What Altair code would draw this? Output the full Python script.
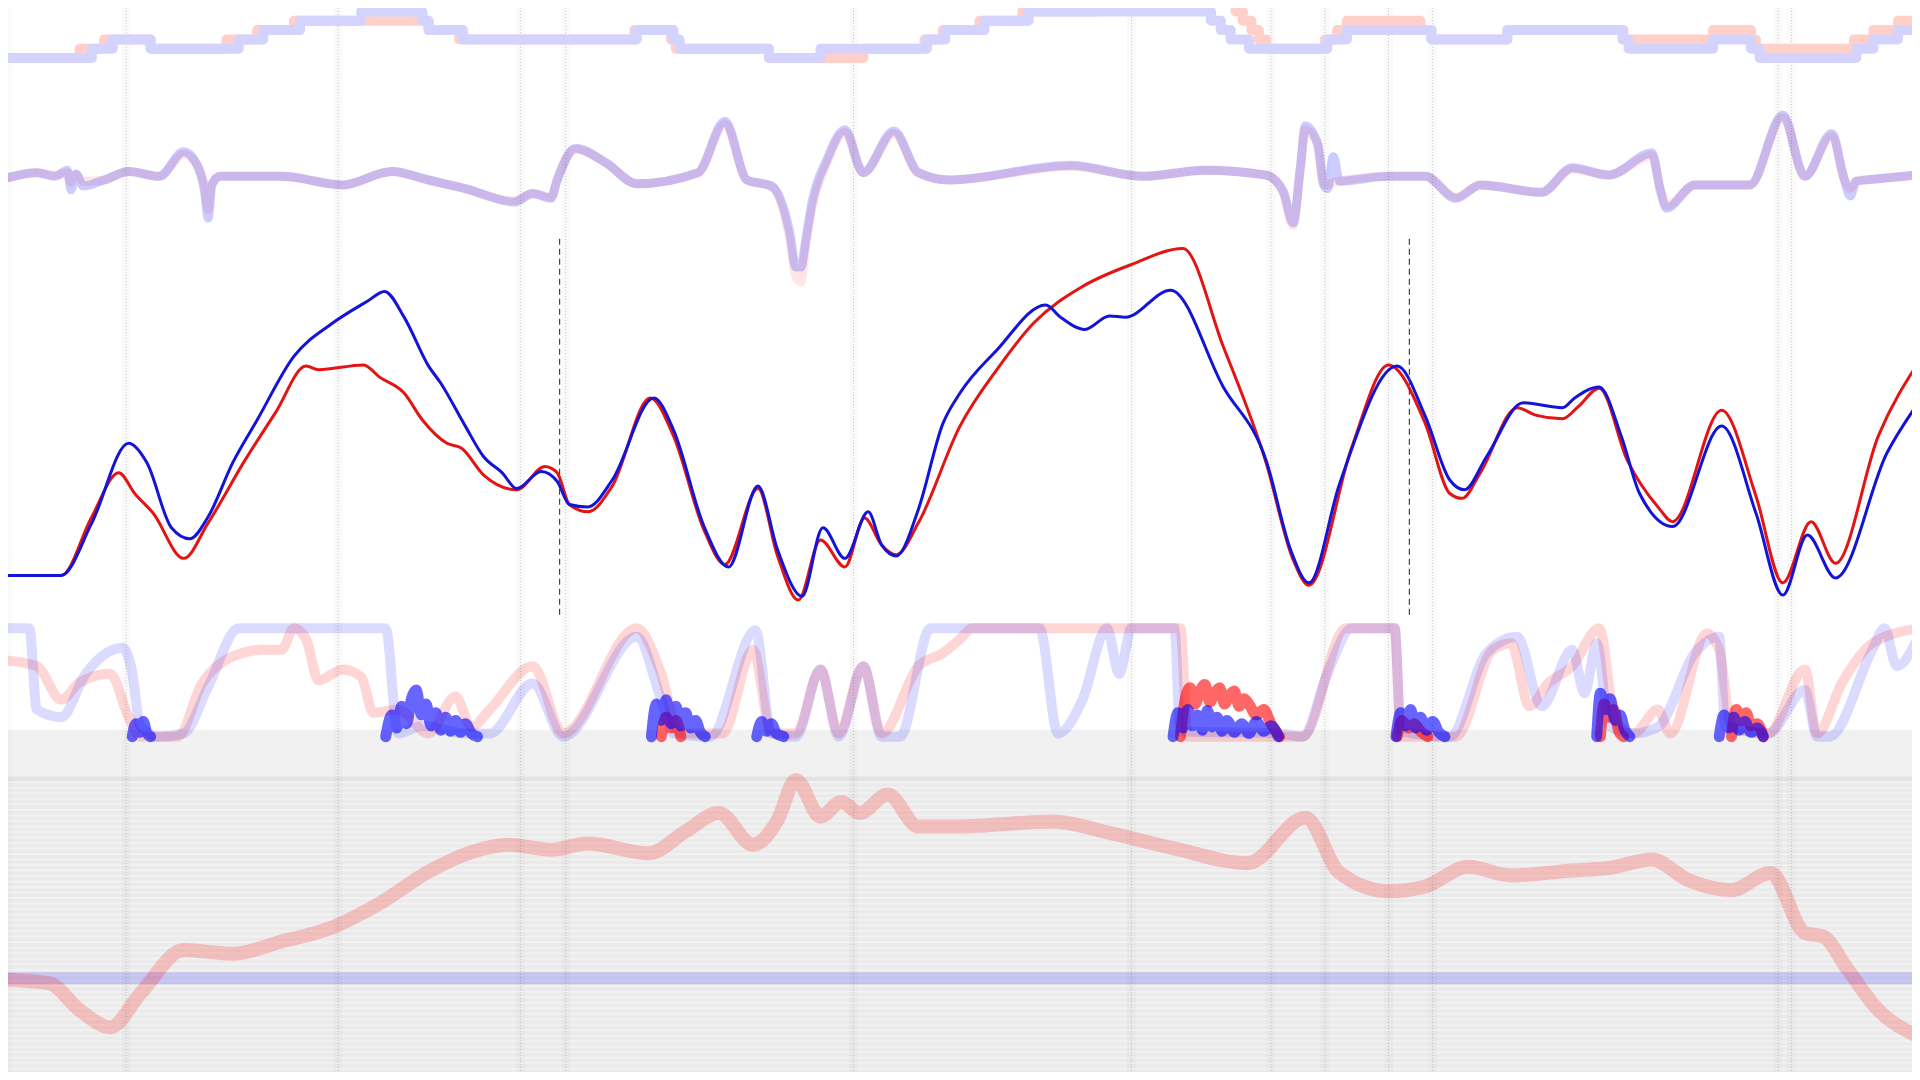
import altair as alt
import pandas as pd

S = 1920 / 1568
W, H = 1904, 1064

# ---------------- data ----------------
gear_blue_x = [0, 75, 92, 123, 195, 215, 245, 295, 345, 350, 378, 520, 550, 555, 628, 670, 757, 772, 804, 840,
               989, 997, 1005, 1020, 1084, 1100, 1169, 1231, 1325, 1330, 1399, 1430, 1437, 1516, 1530, 1550, 1575]
gear_blue = [2, 3, 4, 3, 4, 5, 6, 7, 6, 5, 4, 5, 4, 3, 2, 3, 4, 5, 6, 7,
             6, 5, 4, 3, 4, 5, 4, 5, 4, 3, 4, 3, 2, 3, 4, 5, 5]
gear_red_x = [0, 65, 85, 123, 185, 210, 240, 350, 375, 518, 548, 552, 628, 705, 755, 770, 800, 835, 896, 1009,
              1015, 1022, 1028, 1034, 1082, 1092, 1100, 1160, 1169, 1231, 1326, 1399, 1430, 1434, 1514, 1530, 1550, 1575]
gear_red = [2, 3, 4, 3, 4, 5, 6, 5, 4, 5, 4, 3, 2, 3, 4, 5, 6, 7, 8, 7,
            6, 5, 4, 3, 4, 5, 6, 5, 4, 5, 4, 5, 4, 3, 4, 5, 6, 6]

steer_x = [0, 30, 45, 55, 58, 62, 68, 85, 105, 130,
           150, 160, 167, 170, 173, 180, 210, 230, 280, 320,
           350, 380, 420, 435, 450, 455, 470, 495, 520, 570,
           592, 610, 630, 645, 650, 654, 658, 663, 675, 690,
           705, 730, 750, 775, 874, 934, 984, 1034, 1048, 1056,
           1062, 1066, 1076, 1081, 1084, 1089, 1094, 1134, 1164, 1189,
           1209, 1259, 1284, 1314, 1349, 1356, 1361, 1384, 1429, 1456,
           1474, 1496, 1506, 1511, 1516, 1534, 1575]
steer_blue = [-1, 5, 2, 7, -9, 4, -6, -1, 6, 2,
              22, 13, -10, -32, -5, 2, 2, 2, -5, 6,
              -1, -8, -19, -12, -16, -1, 25, 13, -4, 5,
              47, -1, -6, -44, -72, -72, -50, -20, 15, 40,
              5, 39, 5, -1, 11, 2, 7, 3, -10, -36,
              10, 43, 29, -5, -8, 18, -2, 2, 2, -16,
              -5, -11, 9, 3, 21, -10, -24, -5, -5, 52,
              2, 37, 0, -14, -2, 0, 4]
steer_red = [-1, 5, 3, 5, -3, 3, -2, -1, 6, 2,
             20, 13, -6, -25, -4, 2, 2, 2, -5, 6,
             -1, -8, -18, -12, -15, -1, 24, 13, -4, 5,
             45, -1, -6, -50, -80, -84, -55, -25, 12, 38,
             5, 37, 5, -1, 10, 2, 7, 3, -12, -38,
             8, 40, 28, -4, -5, -3, -2, 2, 2, -15,
             -5, -11, 8, 3, 19, -8, -22, -5, -5, 50,
             2, 35, 0, -8, -2, 0, 4]

spd_blue_x = [0, 50, 75, 105, 120, 140, 155, 170, 190, 210,
              240, 270, 300, 314, 330, 350, 360, 380, 395, 410,
              422, 442, 455, 465, 480, 500, 534, 550, 575, 595,
              619, 635, 655, 672, 690, 709, 720, 732, 750, 770,
              784, 814, 854, 866, 886, 906, 919, 956, 999, 1034,
              1054, 1069, 1094, 1141, 1164, 1184, 1196, 1214, 1244, 1276,
              1286, 1306, 1324, 1339, 1366, 1406, 1434, 1456, 1476, 1499,
              1541, 1568]
spd_blue = [65, 65, 108, 173, 157, 104, 95, 113, 157, 192,
            244, 270, 289, 297, 276, 236, 222, 187, 162, 149,
            136, 150, 142, 123, 121, 143, 210, 184, 105, 72,
            138, 86, 48, 104, 79, 117, 90, 81, 119, 189,
            214, 249, 286, 276, 266, 277, 276, 298, 219, 159,
            86, 59, 140, 236, 195, 143, 135, 162, 206, 202,
            210, 219, 179, 132, 105, 187, 116, 49, 98, 63,
            165, 208]
spd_red_x = [0, 50, 75, 97, 110, 125, 150, 170, 200, 225,
             250, 260, 297, 310, 330, 345, 365, 377, 395, 422,
             445, 455, 465, 480, 500, 531, 550, 575, 592, 619,
             635, 652, 670, 690, 706, 720, 732, 750, 784, 814,
             844, 884, 924, 966, 999, 1034, 1056, 1069, 1104, 1134,
             1164, 1184, 1194, 1209, 1239, 1254, 1276, 1289, 1306, 1329,
             1354, 1366, 1406, 1434, 1456, 1479, 1499, 1534, 1568]
spd_red = [65, 65, 113, 149, 132, 116, 79, 108, 159, 198,
           236, 233, 237, 227, 214, 192, 173, 169, 147, 135,
           154, 149, 123, 117, 138, 210, 179, 102, 74, 136,
           81, 45, 94, 72, 112, 90, 82, 108, 187, 233,
           271, 301, 319, 332, 252, 157, 78, 57, 170, 237,
           189, 132, 128, 149, 202, 196, 193, 203, 218, 159,
           121, 109, 200, 130, 59, 109, 75, 179, 241]

thr_blue_x = [0, 24, 30, 50, 70, 100, 107, 115, 130, 150,
              170, 195, 315, 325, 345, 380, 400, 435, 460, 520,
              540, 550, 580, 617, 630, 650, 670, 685, 705, 720,
              735, 760, 849, 864, 884, 904, 914, 924, 959, 964,
              1044, 1064, 1084, 1104, 1139, 1144, 1184, 1214, 1239, 1259,
              1284, 1294, 1304, 1314, 1334, 1354, 1384, 1404, 1409, 1444,
              1474, 1484, 1494, 1529, 1539, 1549, 1568]
thr_blue = [100, 100, 25, 18, 58, 82, 65, 9, 0, 3,
            46, 100, 100, 3, 10, 3, 3, 49, 0, 92,
            34, 3, 0, 98, 3, 0, 62, 0, 65, 0,
            0, 100, 100, 3, 34, 100, 58, 100, 100, 5,
            3, 0, 58, 100, 100, 5, 0, 77, 92, 28,
            80, 40, 86, 10, 3, 9, 77, 92, 10, 3,
            43, 0, 0, 80, 100, 65, 95]
thr_red_x = [0, 30, 50, 65, 90, 105, 115, 145, 165, 190,
             215, 230, 240, 250, 260, 280, 295, 305, 325, 350,
             372, 385, 400, 435, 460, 520, 540, 555, 590, 615,
             630, 650, 670, 685, 705, 720, 750, 770, 784, 794,
             964, 970, 1064, 1099, 1139, 1144, 1189, 1219, 1234, 1249,
             1264, 1284, 1306, 1319, 1334, 1354, 1364, 1394, 1404, 1414,
             1444, 1474, 1484, 1504, 1529, 1568]
thr_red = [71, 65, 34, 50, 58, 18, 0, 0, 49, 74,
           80, 80, 100, 90, 52, 62, 55, 22, 25, 3,
           37, 9, 25, 65, 3, 100, 58, 3, 3, 80,
           3, 3, 62, 3, 65, 3, 65, 77, 90, 100,
           100, 0, 0, 100, 100, 0, 0, 80, 86, 28,
           49, 65, 100, 15, 3, 25, 3, 95, 80, 10,
           3, 62, 3, 49, 86, 100]

# brake zones: (zone id, distances, brake %)
brake_blue_zones = [
    (1, [108, 111, 114, 117, 120, 123], [0, 12, 4, 14, 3, 0]),
    (2, [315, 320, 324, 328, 332, 336, 340, 344, 348, 352, 356, 360, 364, 368, 372, 376, 380, 385, 390],
        [0, 20, 8, 28, 12, 35, 43, 20, 30, 10, 22, 6, 18, 5, 15, 4, 12, 3, 0]),
    (3, [532, 536, 540, 544, 548, 552, 556, 560, 564, 568, 572, 576],
        [0, 30, 15, 34, 12, 28, 10, 22, 8, 15, 4, 0]),
    (4, [618, 622, 626, 630, 634, 640], [0, 14, 5, 12, 3, 0]),
    (5, [958, 962, 966, 970, 974, 978, 982, 986, 990, 994, 998, 1002, 1008, 1014, 1020, 1026, 1032, 1038, 1044],
        [0, 22, 8, 25, 10, 20, 6, 24, 9, 18, 5, 15, 4, 12, 3, 14, 5, 10, 0]),
    (6, [1140, 1144, 1148, 1152, 1156, 1160, 1165, 1170, 1175, 1180], [0, 22, 10, 25, 8, 18, 6, 14, 4, 0]),
    (7, [1304, 1307, 1311, 1315, 1319, 1323, 1327, 1331], [0, 40, 25, 35, 15, 20, 6, 0]),
    (8, [1404, 1408, 1412, 1416, 1420, 1425, 1430, 1435, 1440], [0, 20, 8, 18, 6, 14, 4, 8, 0]),
]
brake_red_zones = [
    (3, [540, 544, 548, 552, 556], [0, 18, 8, 15, 0]),
    (5, [964, 968, 972, 976, 980, 984, 988, 992, 996, 1000, 1004, 1008, 1012, 1016, 1020, 1026, 1032, 1038, 1045],
        [0, 35, 45, 30, 42, 48, 32, 40, 45, 30, 38, 42, 28, 35, 30, 20, 25, 12, 0]),
    (6, [1141, 1145, 1150, 1155, 1160, 1166], [0, 15, 8, 12, 5, 0]),
    (7, [1307, 1310, 1314, 1318, 1322, 1326], [0, 30, 18, 25, 5, 0]),
    (8, [1414, 1418, 1422, 1426, 1430, 1435, 1440], [0, 25, 15, 22, 10, 12, 0]),
]

delta_x = [0, 40, 65, 90, 115, 150, 190, 230, 270, 310,
           350, 385, 415, 450, 480, 530, 560, 587, 615, 635,
           650, 670, 687, 702, 725, 750, 784, 859, 909, 959,
           1019, 1066, 1094, 1134, 1164, 1199, 1234, 1284, 1314, 1349,
           1379, 1414, 1446, 1474, 1489, 1509, 1534, 1568]
delta_red = [-0.01, -0.04, -0.26, -0.40, -0.12, 0.23, 0.20, 0.30, 0.41, 0.61,
             0.87, 1.03, 1.09, 1.05, 1.10, 1.02, 1.20, 1.35, 1.09, 1.29,
             1.62, 1.32, 1.44, 1.35, 1.50, 1.24, 1.24, 1.28, 1.18, 1.06,
             0.94, 1.31, 0.86, 0.71, 0.75, 0.91, 0.84, 0.88, 0.90, 0.97,
             0.80, 0.72, 0.86, 0.37, 0.34, 0.07, -0.26, -0.48]
delta_blue_x = [0, 1575]
delta_blue = [0.0, 0.0]

grid_x = [6, 103, 276, 425, 462, 697, 924, 1038, 1082, 1134, 1170, 1452, 1463]
marker_x = [457, 1151]

# ---------------- scales ----------------
XS = alt.Scale(domain=[8 / S, (W + 8) / S], nice=False, zero=False)


def ysc(a, b):
    vmax = (S * a - 8) / (S * b)
    vmin = vmax - H / (S * b)
    return alt.Scale(domain=[vmin, vmax], nice=False, zero=False)


GEAR = ysc(62.6, 7.6)
STEER = ysc(146, 1)
SPEED = ysc(535, 1)
THR = ysc(601.6, 0.886)
DELTA = ysc(798.9, 100)


def line(df, field, scale, color, width, opacity=1.0, interp="monotone", detail=None):
    enc = {"x": alt.X("x:Q", scale=XS, axis=None),
           "y": alt.Y(f"{field}:Q", scale=scale, axis=None)}
    if detail:
        enc["detail"] = alt.Detail(f"{detail}:N")
    return alt.Chart(df).mark_line(color=color, strokeWidth=width, opacity=opacity,
                                   interpolate=interp, strokeCap="round",
                                   strokeJoin="round").encode(**enc)


def zones_df(zones):
    rows = []
    for zid, xs, vs in zones:
        for xv, vv in zip(xs, vs):
            rows.append({"zone": zid, "x": xv, "v": vv})
    return pd.DataFrame(rows)


# ---------------- layers ----------------
bands = pd.DataFrame({"x": [0, 0], "x2": [1575, 1575], "top": [2.03, 1.63], "bot": [1.63, -1.5],
                      "c": ["#f1f1f1", "#ebebeb"]})
band_layer = alt.Chart(bands).mark_rect().encode(
    x=alt.X("x:Q", scale=XS, axis=None), x2="x2:Q",
    y=alt.Y("top:Q", scale=DELTA, axis=None), y2="bot:Q",
    color=alt.Color("c:N", scale=None))

stripes = pd.DataFrame({"y": [1.6 - 0.045 * i for i in range(60)]})
stripes["x"] = 0
stripes["x2"] = 1575
stripe_layer = alt.Chart(stripes).mark_rule(color="#ffffff", strokeWidth=2, opacity=0.35).encode(
    x=alt.X("x:Q", scale=XS, axis=None), x2="x2:Q", y=alt.Y("y:Q", scale=DELTA, axis=None))

edge = pd.DataFrame({"y": [1.63], "x": [0], "x2": [1575]})
edge_layer = alt.Chart(edge).mark_rule(color="#e2e2e2", strokeWidth=4).encode(
    x=alt.X("x:Q", scale=XS, axis=None), x2="x2:Q", y=alt.Y("y:Q", scale=DELTA, axis=None))

grid_df = pd.DataFrame({"x": grid_x})
grid_wide = alt.Chart(grid_df).mark_rule(color="#000000", strokeWidth=9, opacity=0.018).encode(
    x=alt.X("x:Q", scale=XS, axis=None))
grid_thin = alt.Chart(grid_df).mark_rule(color="#b8b8b8", strokeWidth=1, strokeDash=[1, 2],
                                         opacity=0.8).encode(x=alt.X("x:Q", scale=XS, axis=None))

gear_r = line(pd.DataFrame({"x": gear_red_x, "g": gear_red}), "g", GEAR, "#ffd0ca", 10, 1.0, "step-after")
gear_b = line(pd.DataFrame({"x": gear_blue_x, "g": gear_blue}), "g", GEAR, "#d3d3fd", 10, 1.0, "step-after")

steer_df = pd.DataFrame({"x": steer_x, "b": steer_blue, "r": steer_red})
steer_r = line(steer_df, "r", STEER, "#ff0000", 9, 0.1)
steer_b = line(steer_df, "b", STEER, "#0000ff", 9, 0.2)

thr_r = line(pd.DataFrame({"x": thr_red_x, "v": thr_red}), "v", THR, "#ff0000", 10, 0.16)
thr_b = line(pd.DataFrame({"x": thr_blue_x, "v": thr_blue}), "v", THR, "#0000ff", 10, 0.14)
brk_r = line(zones_df(brake_red_zones), "v", THR, "#ff0000", 11, 0.6, detail="zone")
brk_b = line(zones_df(brake_blue_zones), "v", THR, "#0000ff", 11, 0.6, detail="zone")

delta_b = line(pd.DataFrame({"x": delta_blue_x, "d": delta_blue}), "d", DELTA, "#0000ff", 12, 0.17, "linear")
delta_r = line(pd.DataFrame({"x": delta_x, "d": delta_red}), "d", DELTA, "#ff0000", 14, 0.2)

spd_r = line(pd.DataFrame({"x": spd_red_x, "v": spd_red}), "v", SPEED, "#e31414", 3)
spd_b = line(pd.DataFrame({"x": spd_blue_x, "v": spd_blue}), "v", SPEED, "#1414d8", 3)

mark_df = pd.DataFrame({"x": marker_x, "top": [340, 340], "bot": [30, 30]})
markers = alt.Chart(mark_df).mark_rule(color="#444444", strokeWidth=1.2, strokeDash=[6, 4]).encode(
    x=alt.X("x:Q", scale=XS, axis=None),
    y=alt.Y("top:Q", scale=SPEED, axis=None), y2="bot:Q")

chart = alt.layer(
    band_layer, stripe_layer, edge_layer, grid_wide, grid_thin,
    gear_r, gear_b, steer_r, steer_b,
    thr_r, thr_b, brk_r, brk_b,
    delta_b, delta_r,
    spd_r, spd_b, markers,
).resolve_scale(y="independent").properties(
    width=W, height=H, padding=0, background="#ffffff",
    autosize=alt.AutoSizeParams(type="none"),
).configure_view(stroke=None)

chart.save("out.html", embed_options={"renderer": "svg", "actions": False})
